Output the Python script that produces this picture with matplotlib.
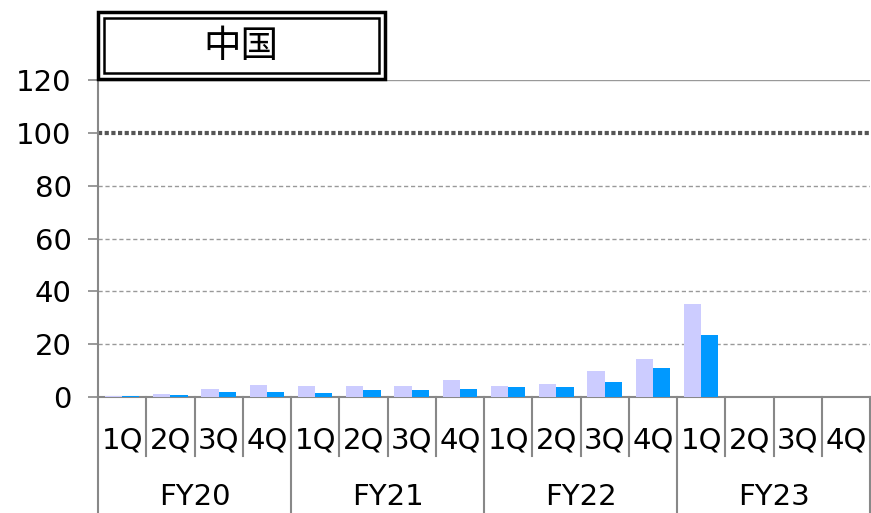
import matplotlib
matplotlib.use("Agg")
import matplotlib.pyplot as plt
from matplotlib.patches import Rectangle
import numpy as np

plt.rcParams['font.family'] = ['DejaVu Sans', 'Noto Sans CJK JP']

years = ["FY20", "FY21", "FY22", "FY23"]
quarters = ["1Q", "2Q", "3Q", "4Q"]
series_a = [0.5, 1.0, 2.9, 4.5, 4.0, 4.2, 4.3, 6.5, 4.2, 5.1, 9.8, 14.4, 35.1, None, None, None]
series_b = [0.5, 0.7, 2.0, 1.8, 1.5, 2.5, 2.8, 3.0, 3.7, 3.9, 5.8, 10.9, 23.4, None, None, None]
ref_value = 100
title = "中国"

fig = plt.figure(figsize=(8.71, 5.13), dpi=100)
ax = fig.add_axes([98/871, 116/513, 772/871, 317/513])

n = len(series_a)
x = np.arange(n)
w = 0.36
a = [v if v is not None else 0 for v in series_a]
b = [v if v is not None else 0 for v in series_b]
ax.bar(x - w/2, a, width=w, color="#CCCCFF", zorder=3)
ax.bar(x + w/2, b, width=w, color="#0099FF", zorder=3)

ax.set_xlim(-0.5, n - 0.5)
ax.set_ylim(0, 120)
ax.set_yticks([0, 20, 40, 60, 80, 100, 120])
ax.tick_params(axis='y', labelsize=21, length=7, color="#888888", width=1.2, pad=12)
ax.set_xticks([])

for yv in [20, 40, 60, 80]:
    ax.axhline(yv, color="#999999", lw=1.0, ls=(0, (3, 2)), zorder=1)
ax.axhline(120, color="#999999", lw=1.0, zorder=1)
ax.axhline(ref_value, color="#555555", lw=3.0, ls=(0, (1, 0.6)), zorder=2)

for s in ['top', 'right']:
    ax.spines[s].set_visible(False)
ax.spines['left'].set_color("#888888")
ax.spines['left'].set_linewidth(1.5)
ax.spines['bottom'].set_color("#888888")
ax.spines['bottom'].set_linewidth(1.5)

# category axis
q_bottom = -(456 - 397) / 317
y_bottom = -(513 - 397) / 317
for i in range(n):
    ax.text(i, -(440 - 397) / 317, quarters[i % 4], transform=ax.get_xaxis_transform(),
            ha='center', va='center', fontsize=21)
for i in range(1, n + 1):
    if i % 4 == 0:
        ax.plot([i - 0.5, i - 0.5], [0, y_bottom], transform=ax.get_xaxis_transform(),
                color="#888888", lw=1.5, clip_on=False)
    else:
        ax.plot([i - 0.5, i - 0.5], [0, q_bottom], transform=ax.get_xaxis_transform(),
                color="#888888", lw=1.5, clip_on=False)
ax.plot([-0.5, -0.5], [0, y_bottom], transform=ax.get_xaxis_transform(),
        color="#888888", lw=1.5, clip_on=False)
for j, yr in enumerate(years):
    ax.text(j * 4 + 1.5, -(497 - 397) / 317, yr, transform=ax.get_xaxis_transform(),
            ha='center', va='center', fontsize=21)

# title box
fig.patches.append(Rectangle((98/871, 1 - 79/513), (385-98)/871, (79-12)/513,
                             transform=fig.transFigure, fill=True, facecolor='white',
                             edgecolor='black', lw=2.5, zorder=5))
fig.patches.append(Rectangle((104/871, 1 - 73/513), (379-104)/871, (73-18)/513,
                             transform=fig.transFigure, fill=False,
                             edgecolor='black', lw=1.8, zorder=6))
fig.text(241/871, 1 - 46/513, title, ha='center', va='center', fontsize=27,
         family=['Noto Sans CJK JP', 'DejaVu Sans'], zorder=7)

fig.savefig("out.png", dpi=100)
